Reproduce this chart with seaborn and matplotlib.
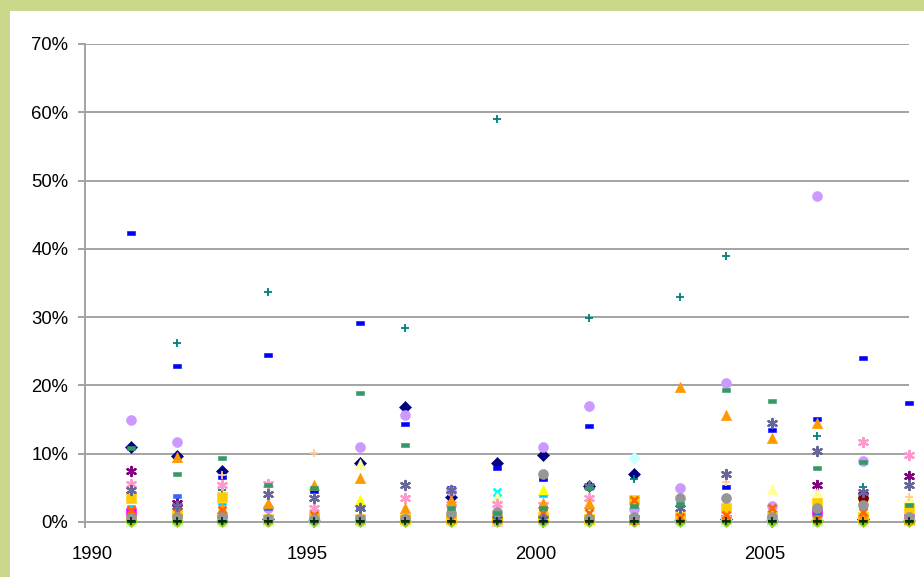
import numpy as np
import pandas as pd
import matplotlib
matplotlib.use("Agg")
import matplotlib.pyplot as plt
from matplotlib.patches import Rectangle
from matplotlib.ticker import PercentFormatter
from matplotlib.transforms import ScaledTranslation
import seaborn as sns

# ---- data (percent) -------------------------------------------------------
years = list(range(1991, 2009))

s01 = [11.0, 9.7, 7.5, 0.4, 0.3, 8.7, 16.9, 3.7, 8.6, 9.8, 5.2, 7.0, 0.3, 0.4, 0.3, 0.3, 0.4, 0.3]
s02 = [1.3, 0.4, 0.3, 0.3, 0.4, 0.3, 0.3, 0.3, 0.2, 0.3, 0.3, 0.3, 0.3, 0.3, 0.3, 1.4, 0.3, 0.4]
s03 = [0.3, 0.3, 0.2, 0.3, 0.3, 3.2, 0.4, 0.3, 0.3, 4.7, 0.3, 0.3, 0.3, 0.3, 0.3, 0.3, 3.5, 0.3]
s04 = [0.5, 0.4, 0.5, 0.4, 0.4, 0.4, 0.5, 0.4, 4.4, 0.5, 0.4, 0.4, 0.4, 0.4, 0.4, 0.4, 0.4, 0.4]
s05 = [7.5, 2.8, 0.5, 0.4, 0.4, 0.4, 0.4, 0.4, 0.4, 0.4, 0.4, 0.4, 0.4, 0.4, 0.4, 5.4, 4.0, 6.7]
s06 = [0.2, 0.2, 0.2, 0.2, 0.2, 0.2, 0.2, 0.2, 0.2, 0.2, 0.2, 0.2, 0.2, 0.2, 0.2, 0.2, 3.5, 0.3]
s07 = [0.4, 26.2, 4.7, 33.7, 0.3, 0.5, 28.4, 0.4, 59.0, 0.3, 29.9, 6.3, 32.9, 38.9, 0.4, 12.6, 5.1, 0.4]
s08 = [42.3, 22.8, 6.6, 24.4, 4.5, 29.1, 14.3, 5.0, 7.9, 6.3, 14.1, 0.5, 1.0, 5.1, 13.5, 15.1, 24.0, 17.5]
s09 = [2.3, 0.5, 2.6, 0.4, 0.4, 0.4, 0.4, 0.4, 0.4, 3.8, 2.0, 0.4, 0.4, 0.4, 0.4, 0.4, 0.4, 0.4]
s10 = [0.3, 0.3, 0.3, 0.3, 0.3, 0.3, 0.3, 0.3, 0.3, 0.3, 0.3, 9.4, 0.3, 0.3, 0.3, 0.3, 0.3, 0.3]
s11 = [0.1, 0.1, 0.1, 0.1, 0.1, 0.1, 0.1, 0.1, 0.1, 0.1, 0.1, 0.1, 0.1, 0.1, 0.1, 0.1, 0.1, 0.1]
s12 = [0.3, 0.3, 0.3, 0.3, 0.3, 8.5, 0.3, 0.3, 3.7, 0.3, 0.3, 0.3, 0.3, 0.3, 4.8, 4.2, 0.3, 3.5]
s13 = [0.3, 0.3, 0.3, 0.3, 0.3, 0.3, 0.3, 0.3, 0.3, 0.3, 0.3, 0.3, 0.3, 0.3, 0.3, 0.3, 0.3, 0.3]
s14 = [5.5, 0.5, 5.4, 5.5, 2.0, 0.5, 3.5, 2.7, 2.7, 2.5, 3.5, 0.5, 0.5, 0.5, 0.5, 0.5, 11.7, 9.8]
s15 = [15.0, 11.7, 1.0, 2.0, 0.5, 11.0, 15.7, 4.5, 0.5, 11.0, 17.0, 1.9, 5.0, 20.4, 2.3, 47.7, 8.9, 0.8]
s16 = [0.3, 0.3, 6.9, 0.3, 10.1, 0.3, 0.3, 0.3, 0.3, 0.3, 0.3, 0.3, 0.3, 5.9, 0.3, 0.3, 0.3, 3.7]
s17 = [0.4, 3.8, 0.4, 2.0, 0.4, 2.0, 0.4, 0.4, 0.4, 0.4, 0.4, 0.4, 0.4, 0.4, 0.4, 1.3, 0.4, 0.4]
s18 = [0.2, 0.2, 0.2, 0.2, 0.2, 0.2, 0.2, 0.2, 0.2, 0.2, 0.2, 0.2, 0.2, 0.2, 0.2, 0.2, 0.2, 0.2]
s19 = [0.1, 0.1, 0.1, 0.1, 0.1, 0.1, 0.1, 0.1, 0.1, 0.1, 0.1, 0.1, 0.1, 0.1, 0.1, 0.1, 0.1, 0.1]
s20 = [3.5, 1.3, 3.7, 0.5, 0.6, 0.4, 0.5, 0.4, 0.5, 0.8, 0.5, 3.2, 0.8, 2.0, 0.9, 2.8, 0.8, 2.0]
s21 = [1.5, 9.5, 2.0, 2.8, 5.4, 6.5, 2.0, 3.2, 1.2, 2.8, 2.8, 0.5, 19.8, 15.7, 12.3, 14.5, 1.0, 0.5]
s22 = [1.7, 1.5, 1.8, 0.5, 1.0, 0.5, 0.5, 0.5, 0.5, 1.3, 1.3, 3.2, 0.8, 1.0, 2.1, 0.5, 1.5, 0.5]
s23 = [4.7, 2.3, 0.5, 4.1, 3.5, 2.0, 5.4, 4.7, 0.5, 0.5, 5.2, 0.5, 2.0, 7.0, 14.5, 10.4, 4.4, 5.4]
s24 = [0.6, 0.8, 0.8, 0.5, 0.5, 0.5, 0.5, 1.3, 1.4, 7.0, 0.5, 0.8, 3.5, 3.5, 0.8, 2.1, 2.5, 0.8]
s25 = [0.2, 0.2, 0.2, 0.2, 0.2, 0.2, 0.2, 0.2, 0.2, 0.2, 0.2, 0.2, 0.2, 0.2, 0.2, 0.2, 0.2, 0.2]
s26 = [10.8, 7.0, 9.4, 5.4, 5.0, 18.9, 11.3, 2.0, 1.3, 2.0, 5.0, 2.3, 2.6, 19.3, 17.7, 7.9, 8.8, 2.5]
s27 = [0.1, 0.1, 0.1, 0.1, 0.1, 0.1, 0.1, 0.1, 0.1, 0.1, 0.1, 0.1, 0.1, 0.1, 0.1, 0.1, 0.1, 0.1]

series_values = [s01, s02, s03, s04, s05, s06, s07, s08, s09, s10, s11, s12, s13, s14,
                 s15, s16, s17, s18, s19, s20, s21, s22, s23, s24, s25, s26, s27]

colors = ["#000080", "#FF00FF", "#FFFF00", "#00FFFF", "#800080", "#800000", "#008080",
          "#0000FF", "#00CCFF", "#CCFFFF", "#CCFFCC", "#FFFF99", "#99CCFF", "#FF99CC",
          "#CC99FF", "#FFCC99", "#3366FF", "#33CCCC", "#99CC00", "#FFCC00", "#FF9900",
          "#FF6600", "#666699", "#969696", "#0B2E2A", "#339966", "#003300"]

x_ticks = [1990, 1995, 2000, 2005]
y_ticks = [0.0, 0.1, 0.2, 0.3, 0.4, 0.5, 0.6, 0.7]

# ---- marker styles cycling like a spreadsheet chart ------------------------
short_dash = [(-1, -0.42), (1, -0.42), (1, 0.42), (-1, 0.42), (-1, -0.42)]
long_dash = [(-1, -0.3), (1, -0.3), (1, 0.3), (-1, 0.3), (-1, -0.3)]
asterisk = (6, 2, 0)
cycle = [
    dict(marker="D", s=38, filled=True),
    dict(marker="s", s=44, filled=True),
    dict(marker="^", s=56, filled=True),
    dict(marker="x", s=32, filled=False, lw=2.0),
    dict(marker=asterisk, s=44, filled=False, lw=1.6),
    dict(marker="o", s=52, filled=True),
    dict(marker="+", s=38, filled=False, lw=1.3),
    dict(marker=short_dash, s=28, filled=True),
    dict(marker=long_dash, s=38, filled=True),
]

# ---- figure ----------------------------------------------------------------
sns.set_style("white")
plt.rcParams["font.family"] = ["Liberation Sans", "DejaVu Sans"]

W, H = 924, 577
fig = plt.figure(figsize=(W / 100, H / 100), dpi=100, facecolor="white")
ax = fig.add_axes([85 / W, 1 - 522 / H, (909 - 85) / W, (522 - 44) / H])

rows = []
for i, vals in enumerate(series_values):
    for yr, v in zip(years, vals):
        rows.append({"year": yr, "share": v / 100.0, "series": f"S{i + 1:02d}"})
df = pd.DataFrame(rows)

for i, name in enumerate(df["series"].unique()):
    sub = df[df["series"] == name]
    st = cycle[i % len(cycle)]
    kw = dict(marker=st["marker"], s=st["s"], color=colors[i], clip_on=False,
              zorder=3 + i * 0.01, legend=False, ax=ax)
    if st["filled"]:
        kw.update(edgecolor=colors[i], linewidth=0.4)
    else:
        kw.update(linewidth=st["lw"])
    sns.scatterplot(data=sub, x="year", y="share", **kw)

grid_c = "#A3A3A3"
ax.set_xlim(1990, 2008)
ax.set_ylim(0, 0.7)
ax.set_xticks(x_ticks)
ax.set_yticks(y_ticks)
ax.yaxis.set_major_formatter(PercentFormatter(1.0, decimals=0))
ax.set_xlabel("")
ax.set_ylabel("")

ax.grid(axis="y", color=grid_c, linewidth=1.4)
ax.grid(axis="x", visible=False)
ax.set_axisbelow(True)
for side in ("top", "right"):
    ax.spines[side].set_visible(False)
for side in ("left", "bottom"):
    ax.spines[side].set_color(grid_c)
    ax.spines[side].set_linewidth(1.4)

ax.tick_params(axis="y", direction="out", length=5, width=1.4, color=grid_c,
               pad=7, labelsize=13.3, labelcolor="black", left=True)
ax.tick_params(axis="x", direction="out", length=4.3, width=1.4, color=grid_c,
               pad=13, labelsize=13.3, labelcolor="black", bottom=True)

# year labels sit slightly left of their ticks; the first one is kept inside
for k, lab in enumerate(ax.get_xticklabels()):
    dx = 7 if k == 0 else -7
    lab.set_transform(lab.get_transform() + ScaledTranslation(dx / 100, 0, fig.dpi_scale_trans))

# olive frame along the top and left edges
band = "#C9D88B"
fig.add_artist(Rectangle((0, 1 - 11 / H), 1, 11 / H, transform=fig.transFigure,
                         facecolor=band, edgecolor="none", zorder=10))
fig.add_artist(Rectangle((0, 0), 10 / W, 1, transform=fig.transFigure,
                         facecolor=band, edgecolor="none", zorder=10))

fig.savefig("out.png", dpi=100, facecolor="white")
